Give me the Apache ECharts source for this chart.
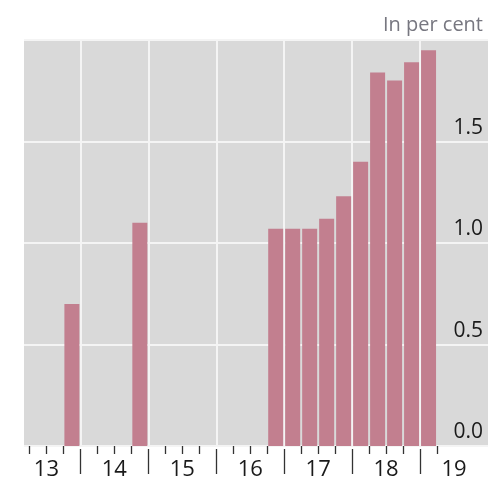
<!DOCTYPE html>
<html>
<head>
<meta charset="utf-8">
<script src="https://cdn.jsdelivr.net/npm/echarts@6/dist/echarts.min.js"></script>
<style>
    html, body { margin: 0; padding: 0; background: #fff; }
    #chart { width: 488px; height: 481px; }
</style>
</head>
<body>
<div id="chart"></div>
<script>
// quarters are placed at year + (q - 0.5) / 4
var barQuarters = [2013.875, 2014.875, 2016.875, 2017.125, 2017.375, 2017.625, 2017.875,
    2018.125, 2018.375, 2018.625, 2018.875, 2019.125];
var barValues = [0.70, 1.10, 1.07, 1.07, 1.07, 1.12, 1.23, 1.40, 1.84, 1.80, 1.89, 1.95];

var quarterTicks = [2013.25, 2013.5, 2013.75, 2014.25, 2014.5, 2014.75, 2015.25, 2015.5, 2015.75,
    2016.25, 2016.5, 2016.75, 2017.25, 2017.5, 2017.75, 2018.25, 2018.5, 2018.75, 2019.25];
var yearTicks = [2014, 2015, 2016, 2017, 2018, 2019];
var yearLabels = [2013.5, 2014.5, 2015.5, 2016.5, 2017.5, 2018.5, 2019.5];
var yTicks = [0, 0.5, 1.0, 1.5];

var chart = echarts.init(document.getElementById('chart'));

function genData() {
    var data = [];
    for (var i = 0; i < barQuarters.length; i++) {
        data.push([barQuarters[i], barValues[i]]);
    }
    return data;
}

var font = '"Open Sans", "Noto Sans", sans-serif';

var option = {
    animation: false,
    title: {
        text: 'In per cent',
        right: 0,
        top: 10,
        textStyle: {
            color: '#777780',
            fontFamily: font,
            fontSize: 20,
            fontWeight: 'normal'
        }
    },
    grid: {
        left: 24,
        right: 0,
        top: 40,
        bottom: 33.5,
        show: true,
        backgroundColor: '#d9d9d9',
        borderWidth: 0
    },
    xAxis: [{
        type: 'value',
        min: 2013.17,
        max: 2020,
        offset: 3,
        axisLine: { show: false },
        axisTick: {
            show: true,
            customValues: quarterTicks,
            length: 8,
            lineStyle: { color: '#333', width: 1.3 }
        },
        axisLabel: {
            customValues: yearLabels,
            margin: 10,
            color: '#1a1a1a',
            fontFamily: font,
            fontSize: 22,
            formatter: function (v) {
                return String(Math.floor(v) % 100);
            }
        },
        splitLine: { show: false }
    }, {
        type: 'value',
        position: 'bottom',
        min: 2013.17,
        max: 2020,
        offset: 3,
        axisLine: { show: false },
        axisTick: {
            show: true,
            customValues: yearTicks,
            length: 25,
            lineStyle: { color: '#333', width: 1.3 }
        },
        axisLabel: { show: false },
        splitLine: {
            show: true,
            lineStyle: { color: '#f4f4f4', width: 2 }
        }
    }],
    yAxis: {
        type: 'value',
        position: 'right',
        min: 0,
        max: 2,
        interval: 0.5,
        axisLine: { show: false },
        axisTick: { show: false },
        axisLabel: {
            inside: true,
            margin: 5,
            verticalAlign: 'bottom',
            padding: [0, 0, 3, 0],
            color: '#1a1a1a',
            fontFamily: font,
            fontSize: 21,
            formatter: function (v) {
                return yTicks.indexOf(v) >= 0 ? v.toFixed(1) : '';
            }
        },
        splitLine: {
            show: true,
            lineStyle: { color: '#f4f4f4', width: 2 }
        }
    },
    series: [{
        type: 'bar',
        xAxisIndex: 0,
        barWidth: 15,
        data: genData(),
        itemStyle: { color: '#c27f8f' }
    }]
};

chart.setOption(option);
</script>
</body>
</html>
